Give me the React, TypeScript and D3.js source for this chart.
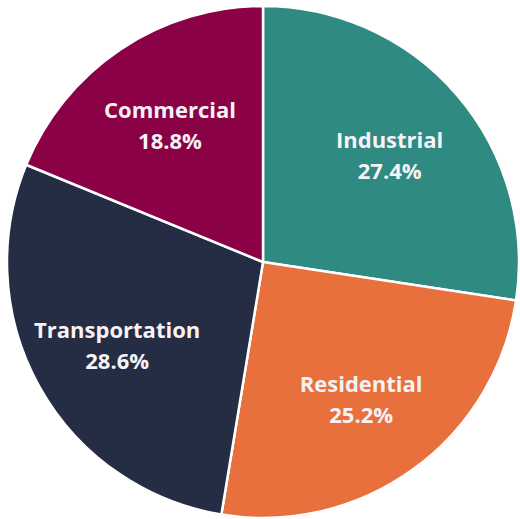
import * as d3 from "d3";
import React, {useEffect, useRef} from "react";

const categories = ["Industrial", "Residential", "Transportation", "Commercial"];
const shares = [27.4, 25.2, 28.6, 18.8];
const colors = ["#2f8a82", "#e8703d", "#252d44", "#8a0146"];

const width = 520;
const height = 519;

const App: React.FC = () => {
  const ref = useRef<SVGSVGElement | null>(null);

  useEffect(() => {
    document.body.style.margin = "0";
    const svg = d3.select(ref.current);
    svg.selectAll("*").remove();

    const cx = 263;
    const cy = 262;
    const radius = 256;
    const labelRadius = 167;

    const data = categories.map((c, i) => ({name: c, value: shares[i], color: colors[i]}));

    const pie = d3.pie<{name: string, value: number, color: string}>()
      .sort(null)
      .value((d) => d.value);

    const arc = d3.arc<d3.PieArcDatum<{name: string, value: number, color: string}>>()
      .innerRadius(0)
      .outerRadius(radius);

    const labelArc = d3.arc<d3.PieArcDatum<{name: string, value: number, color: string}>>()
      .innerRadius(labelRadius)
      .outerRadius(labelRadius);

    const g = svg.append("g").attr("transform", `translate(${cx}, ${cy})`);

    const slices = g.selectAll(".slice")
      .data(pie(data))
      .enter()
      .append("g")
      .attr("class", "slice");

    slices.append("path")
      .attr("d", arc)
      .attr("fill", (d) => d.data.color)
      .attr("stroke", "#ffffff")
      .attr("stroke-width", 2.5)
      .attr("stroke-linejoin", "round");

    const labels = slices.append("text")
      .attr("transform", (d) => {
        const [x, y] = labelArc.centroid(d);
        return `translate(${x}, ${y})`;
      })
      .attr("text-anchor", "middle")
      .attr("fill", "#f7f2f6")
      .style("font-family", "'Open Sans', sans-serif")
      .style("font-weight", "700")
      .style("font-size", "22px");

    labels.append("tspan")
      .attr("x", 0)
      .attr("dy", "-0.25em")
      .text((d) => d.data.name);

    labels.append("tspan")
      .attr("x", 0)
      .attr("dy", 31)
      .text((d) => `${d.data.value.toFixed(1)}%`);

    return () => {
      svg.selectAll("*").remove();
    };
  }, []);

  return <svg ref={ref} width={width} height={height} style={{display: "block"}}/>;
};

export default App;
